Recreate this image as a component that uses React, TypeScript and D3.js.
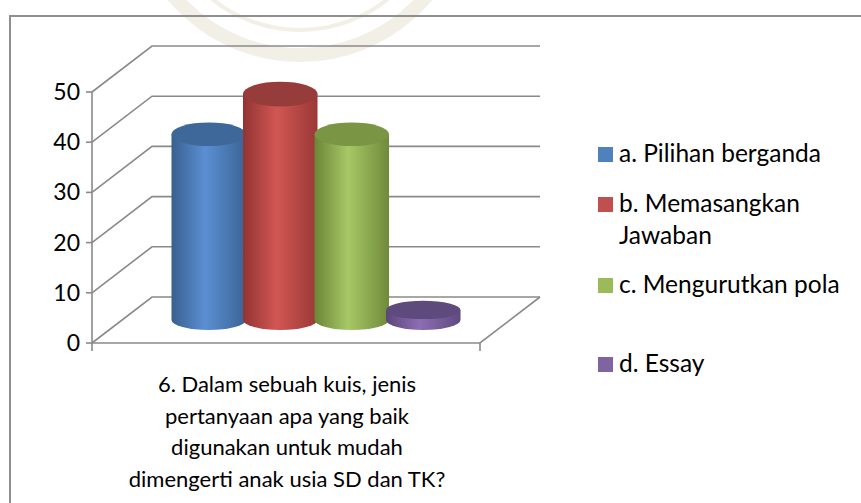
import React from "react";
import * as d3 from "d3";

const categoryLines = [
  "6. Dalam sebuah kuis, jenis",
  "pertanyaan apa yang baik",
  "digunakan untuk mudah",
  "dimengerti anak usia SD dan TK?",
];
const seriesNames = ["a. Pilihan berganda", "b. Memasangkan Jawaban", "c. Mengurutkan pola", "d. Essay"];
const legendLines = [["a. Pilihan berganda"], ["b. Memasangkan", "Jawaban"], ["c. Mengurutkan pola"], ["d. Essay"]];
const seriesValues = [37, 45, 37, 2];
const yTicks = [0, 10, 20, 30, 40, 50];
const seriesColors = ["#4f81bd", "#c0504d", "#9bbb59", "#8064a2"];
const sideStops = [
  ["#395f90", "#5b8fd3", "#3b6496"],
  ["#923433", "#d15653", "#9a3836"],
  ["#6b8536", "#a7c866", "#6f8a3a"],
  ["#5b4679", "#8d6db3", "#5f4a80"],
];
const topColors = ["#3e6899", "#963d3b", "#7a9543", "#5f4a7d"];

const FONT = "Lato, 'Open Sans', sans-serif";

export default function App() {
  const W = 861, H = 503;
  const x0 = 92, x1 = 480;
  const dx = 60, dy = -46;
  const y = d3.scaleLinear().domain([0, 50]).range([343, 92]);
  const mid = 0.5;
  const band = d3.scaleBand<string>().domain(seriesNames).range([x0 + dx * mid + 51, x1 + dx * mid - 51]).padding(0);
  const line = d3.line<[number, number]>();
  const grid = "#8a8a8a";
  const legendY = [162, 212, 293, 372];

  return (
    <svg width={W} height={H} style={{ position: "absolute", left: 0, top: 0, background: "#fff" }}>
      <defs>
        {sideStops.map((s, i) => (
          <linearGradient key={i} id={`side${i}`} x1="0" x2="1" y1="0" y2="0">
            <stop offset="0" stopColor={s[0]} />
            <stop offset="0.45" stopColor={s[1]} />
            <stop offset="1" stopColor={s[2]} />
          </linearGradient>
        ))}
      </defs>
      {/* faint watermark */}
      <g fill="none" stroke="#f2efe6">
        <circle cx={300} cy={-110} r={165} strokeWidth={14} />
        <circle cx={300} cy={-110} r={140} strokeWidth={4} />
      </g>
      {/* frame */}
      <rect x={10} y={16} width={W + 20} height={H + 20} fill="none" stroke="#8f8f8f" strokeWidth={2} />

      {/* gridlines: back wall & side wall */}
      <g stroke={grid} strokeWidth={1.6} fill="none">
        {yTicks.map((t) => (
          <g key={t}>
            <path d={line([[x0, y(t)], [x0 + dx, y(t) + dy], [x1 + dx, y(t) + dy]]) as string} />
            <path d={line([[x0 - 6, y(t)], [x0, y(t)]]) as string} />
          </g>
        ))}
        {/* floor */}
        <path d={line([[x0, y(0)], [x1, y(0)], [x1 + dx, y(0) + dy]]) as string} />
        {/* vertical axis */}
        <path d={line([[x0, y(50)], [x0, y(0) + 8]]) as string} />
        <path d={line([[x1, y(0)], [x1, y(0) + 8]]) as string} />
      </g>

      {/* y labels */}
      <g fontFamily={FONT} fontSize={23} fill="#000" textAnchor="end">
        {yTicks.map((t) => (
          <text key={t} x={80} y={y(t)} dy="0.35em">{t}</text>
        ))}
      </g>

      {/* cylinders */}
      {seriesNames.map((s, i) => {
        const rx = band.bandwidth() / 2 + 1.5;
        const cx = (band(s) as number) + band.bandwidth() / 2;
        const yb = y(0) + dy * mid;
        const yt = y(seriesValues[i]) + dy * mid;
        const ry = 9 + 3.5 * (yb - yt) / 230;
        const ryb = 10;
        const d = `M${cx - rx},${yt} L${cx - rx},${yb} A${rx},${ryb} 0 0 0 ${cx + rx},${yb} L${cx + rx},${yt} Z`;
        return (
          <g key={s}>
            <path d={d} fill={`url(#side${i})`} />
            <ellipse cx={cx} cy={yt} rx={rx} ry={ry} fill={topColors[i]} />
          </g>
        );
      })}

      {/* category label */}
      <g fontFamily={FONT} fontSize={22} fill="#000" textAnchor="middle">
        {categoryLines.map((l, i) => (
          <text key={i} x={287} y={392 + i * 31.5}>{l}</text>
        ))}
      </g>

      {/* legend */}
      <g fontFamily={FONT} fontSize={24.5} fill="#000">
        {legendLines.map((ls, i) => (
          <g key={i}>
            <rect x={598} y={legendY[i] - 15} width={15} height={15} fill={seriesColors[i]} />
            {ls.map((l, j) => (
              <text key={j} x={619} y={legendY[i] + j * 32}>{l}</text>
            ))}
          </g>
        ))}
      </g>
    </svg>
  );
}
